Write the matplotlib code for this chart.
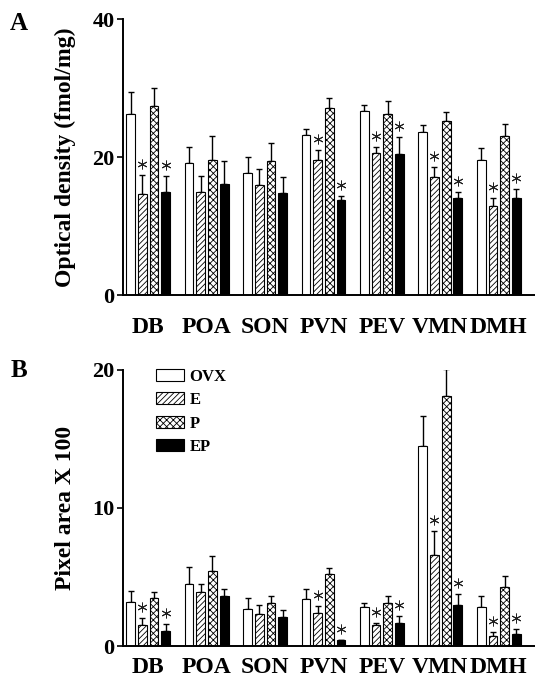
import numpy as np
import matplotlib
matplotlib.use('Agg')
from matplotlib import pyplot as plt
from matplotlib import transforms

plt.rcParams['font.family'] = 'Liberation Serif'
plt.rcParams['font.weight'] = 'bold'
plt.rcParams['axes.labelweight'] = 'bold'
plt.rcParams['hatch.linewidth'] = 0.6

regions = ['DB', 'POA', 'SON', 'PVN', 'PEV', 'VMN', 'DMH']
groups = ['OVX', 'E', 'P', 'EP']

# panel A: optical density (fmol/mg)
a_ovx = [26.2, 19.2, 17.7, 23.2, 26.7, 23.6, 19.6]
a_ovx_err = [3.2, 2.3, 2.3, 0.9, 0.8, 1.1, 1.7]
a_e = [14.7, 15.0, 15.9, 19.6, 20.6, 17.1, 12.9]
a_e_err = [2.7, 2.3, 2.3, 1.4, 0.8, 1.5, 1.1]
a_p = [27.4, 19.6, 19.4, 27.1, 26.2, 25.2, 23.1]
a_p_err = [2.6, 3.5, 2.6, 1.5, 1.9, 1.3, 1.7]
a_ep = [15.0, 16.1, 14.8, 13.7, 20.5, 14.1, 14.1]
a_ep_err = [2.3, 3.3, 2.3, 0.7, 2.4, 0.9, 1.3]

# panel B: pixel area x 100
b_ovx = [3.2, 4.5, 2.7, 3.4, 2.8, 14.5, 2.8]
b_ovx_err = [0.8, 1.2, 0.8, 0.7, 0.3, 2.2, 0.8]
b_e = [1.5, 3.9, 2.3, 2.4, 1.5, 6.6, 0.7]
b_e_err = [0.5, 0.6, 0.65, 0.5, 0.2, 1.7, 0.3]
b_p = [3.5, 5.4, 3.1, 5.2, 3.1, 18.1, 4.25]
b_p_err = [0.4, 1.1, 0.5, 0.45, 0.55, 2.0, 0.85]
b_ep = [1.1, 3.6, 2.1, 0.4, 1.7, 2.95, 0.9]
b_ep_err = [0.5, 0.5, 0.5, 0.0, 0.45, 0.85, 0.33]

# regions where E and EP differ from OVX
sig_regions = ['DB', 'PVN', 'PEV', 'VMN', 'DMH']

styles = [dict(color='white', hatch=None),
          dict(color='white', hatch='//////'),
          dict(color='white', hatch='xxxxx'),
          dict(color='black', hatch=None)]
offsets = [-0.3, -0.1, 0.1, 0.3]
width = 0.15

fig = plt.figure(figsize=(5.35, 6.79), dpi=100)
axA = fig.add_axes([0.23, 0.5655, 0.77, 0.4065])
axB = fig.add_axes([0.23, 0.0486, 0.77, 0.4065])


def draw(ax, series, errs, ymax, yticks, ylabel, xpad):
    x = np.arange(len(regions))
    star = transforms.offset_copy(ax.transData, fig=fig, y=11, units='dots')
    for k in range(4):
        ax.bar(x + offsets[k], series[k], width, color=styles[k]['color'],
               hatch=styles[k]['hatch'], edgecolor='black', linewidth=0.8,
               label=groups[k], zorder=2)
        ax.errorbar(x + offsets[k], series[k],
                    yerr=[np.zeros(len(regions)), errs[k]], fmt='none',
                    ecolor='black', elinewidth=1.0, capsize=2, capthick=1.0,
                    zorder=1)
        if groups[k] in ('E', 'EP'):
            for i, r in enumerate(regions):
                if r in sig_regions:
                    ax.plot(i + offsets[k], series[k][i] + errs[k][i],
                            marker=(6, 2, 0), ms=7, mew=0.7, color='#222222',
                            transform=star, clip_on=False)
    ax.set_xlim(-0.43, 6.62)
    ax.set_ylim(0, ymax)
    ax.set_yticks(yticks)
    ax.set_xticks(x)
    ax.set_xticklabels(regions, fontsize=17)
    ax.tick_params(axis='x', length=0, pad=xpad)
    ax.tick_params(axis='y', direction='out', length=4, width=1.2,
                   labelsize=16, pad=2)
    for s in ['top', 'right']:
        ax.spines[s].set_visible(False)
    for s in ['left', 'bottom']:
        ax.spines[s].set_linewidth(1.4)
    ax.set_ylabel(ylabel, fontsize=17)
    ax.yaxis.set_label_coords(-0.115, 0.5)


draw(axA, [a_ovx, a_e, a_p, a_ep], [a_ovx_err, a_e_err, a_p_err, a_ep_err],
     40, [0, 20, 40], 'Optical density (fmol/mg)', 16)
draw(axB, [b_ovx, b_e, b_p, b_ep], [b_ovx_err, b_e_err, b_p_err, b_ep_err],
     20, [0, 10, 20], 'Pixel area X 100', 8)

axB.legend(loc='upper left', bbox_to_anchor=(0.08, 1.005), frameon=False,
           fontsize=12, handlelength=1.65, handleheight=0.7,
           handletextpad=0.35, labelspacing=0.45, borderpad=0, borderaxespad=0)

fig.text(0.018, 0.965, 'A', fontsize=18, va='center')
fig.text(0.02, 0.455, 'B', fontsize=18, va='center')

plt.savefig('out.png', dpi=100)
